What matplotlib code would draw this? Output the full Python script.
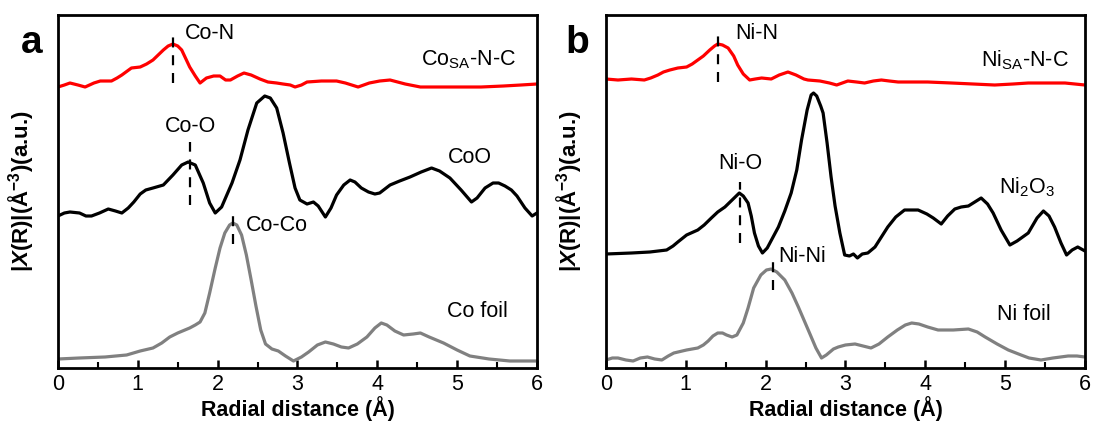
import matplotlib
matplotlib.use("Agg")
import matplotlib.pyplot as plt
from matplotlib.ticker import MultipleLocator

# ==========================================
# ================ DONNEES =================
# ==========================================
# valeurs (unites arbitraires, courbes deja decalees)

# panneau a : Co
co_sa_x = [0.00, 0.08, 0.15, 0.25, 0.34, 0.45, 0.53, 0.67, 0.74, 0.80, 0.92, 1.03, 1.11, 1.19,
           1.32, 1.38, 1.44, 1.50, 1.55, 1.65, 1.72, 1.78, 1.86, 1.95, 2.03, 2.10, 2.16, 2.25,
           2.33, 2.42, 2.53, 2.63, 2.74, 2.82, 2.91, 2.97, 3.05, 3.12, 3.30, 3.49, 3.60, 3.76,
           3.90, 4.03, 4.16, 4.35, 4.54, 4.80, 5.08, 5.30, 5.58, 5.80, 6.00]
co_sa_y = [281, 283, 285, 283, 281, 285, 287, 287, 290, 293, 300, 301, 304, 308,
           318, 322, 324, 322, 318, 301, 292, 285, 290, 292, 292, 288, 288, 292,
           295, 293, 289, 286, 285, 284, 283, 281, 283, 286, 287, 287, 285, 281,
           285, 287, 288, 284, 281, 281, 281, 281, 282, 283, 284]

coo_x = [0.00, 0.08, 0.15, 0.27, 0.35, 0.42, 0.52, 0.63, 0.72, 0.80, 0.88, 0.95, 1.03, 1.10,
         1.19, 1.32, 1.44, 1.55, 1.63, 1.72, 1.82, 1.90, 1.97, 2.05, 2.18, 2.28, 2.38, 2.49,
         2.59, 2.66, 2.74, 2.82, 2.90, 2.97, 3.03, 3.12, 3.20, 3.26, 3.35, 3.42, 3.49, 3.58,
         3.66, 3.72, 3.80, 3.89, 3.97, 4.03, 4.16, 4.28, 4.41, 4.55, 4.68, 4.78, 4.91, 5.05,
         5.18, 5.25, 5.35, 5.45, 5.52, 5.60, 5.68, 5.75, 5.85, 5.94, 6.00]
coo_y = [152, 155, 156, 155, 152, 152, 155, 159, 157, 155, 160, 166, 174, 178,
         180, 183, 193, 203, 206, 203, 185, 165, 155, 161, 185, 208, 238, 265,
         272, 270, 260, 235, 205, 180, 168, 164, 166, 162, 151, 160, 173, 183,
         188, 186, 180, 176, 174, 175, 183, 187, 191, 196, 200, 197, 190, 178,
         166, 170, 180, 185, 185, 182, 178, 172, 160, 152, 155]

co_foil_x = [0.00, 0.27, 0.59, 0.86, 1.03, 1.19, 1.30, 1.40, 1.50, 1.65, 1.72, 1.78, 1.84,
             1.90, 1.97, 2.03, 2.09, 2.15, 2.19, 2.24, 2.30, 2.36, 2.42, 2.48, 2.54, 2.60,
             2.68, 2.76, 2.85, 2.95, 3.05, 3.14, 3.25, 3.35, 3.45, 3.55, 3.64, 3.75, 3.87,
             3.97, 4.05, 4.12, 4.22, 4.33, 4.45, 4.54, 4.65, 4.83, 5.00, 5.16, 5.40, 5.66, 6.00]
co_foil_y = [9, 10, 11, 13, 17, 20, 25, 31, 35, 40, 43, 46, 55,
             75, 100, 120, 135, 143, 145, 143, 133, 113, 88, 62, 38, 24,
             19, 17, 12, 7, 11, 16, 23, 26, 24, 21, 20, 24, 31,
             40, 45, 43, 37, 33, 34, 35, 31, 25, 18, 12, 9, 7, 7]

# panneau b : Ni
ni_sa_x = [0.00, 0.15, 0.32, 0.48, 0.56, 0.65, 0.72, 0.80, 0.90, 1.01, 1.08, 1.15, 1.22, 1.30,
           1.36, 1.40, 1.46, 1.53, 1.60, 1.65, 1.72, 1.80, 1.87, 1.95, 2.07, 2.17, 2.28, 2.38,
           2.48, 2.53, 2.68, 2.80, 2.89, 2.96, 3.03, 3.14, 3.24, 3.35, 3.45, 3.55, 3.66, 3.85,
           4.03, 4.33, 4.60, 4.87, 5.10, 5.29, 5.50, 5.75, 6.00]
ni_sa_y = [289, 288, 289, 288, 290, 293, 296, 298, 300, 301, 304, 308, 312, 318,
           322, 324, 323, 320, 312, 303, 294, 288, 289, 290, 289, 293, 296, 293,
           289, 288, 287, 285, 283, 285, 287, 286, 285, 287, 288, 287, 286, 286,
           286, 285, 284, 283, 284, 285, 285, 285, 283]

ni2o3_x = [0.00, 0.32, 0.55, 0.76, 0.84, 0.90, 1.01, 1.15, 1.23, 1.32, 1.40, 1.49, 1.58, 1.67,
           1.72, 1.78, 1.82, 1.86, 1.91, 1.96, 2.02, 2.10, 2.16, 2.24, 2.32, 2.39, 2.45, 2.52,
           2.57, 2.60, 2.64, 2.69, 2.72, 2.77, 2.82, 2.87, 2.93, 2.99, 3.05, 3.10, 3.15, 3.21,
           3.28, 3.37, 3.45, 3.53, 3.63, 3.74, 3.82, 3.91, 4.02, 4.10, 4.20, 4.28, 4.37, 4.45,
           4.54, 4.62, 4.70, 4.78, 4.85, 4.95, 5.06, 5.15, 5.29, 5.40, 5.48, 5.55, 5.62, 5.70,
           5.77, 5.84, 5.91, 6.00]
ni2o3_y = [114, 115, 116, 118, 122, 126, 133, 138, 143, 150, 156, 161, 168, 175,
           172, 165, 152, 135, 122, 115, 120, 132, 141, 157, 175, 198, 228, 258,
           273, 275, 272, 262, 255, 225, 191, 162, 135, 113, 112, 114, 110, 114,
           115, 121, 131, 141, 151, 158, 158, 158, 154, 150, 144, 152, 159, 161,
           162, 166, 170, 164, 155, 138, 123, 127, 135, 150, 157, 152, 141, 125,
           113, 118, 121, 117]

ni_foil_x = [0.00, 0.08, 0.15, 0.25, 0.34, 0.43, 0.52, 0.61, 0.70, 0.78, 0.85, 1.01, 1.15,
             1.22, 1.28, 1.34, 1.40, 1.46, 1.51, 1.58, 1.64, 1.72, 1.78, 1.85, 1.94, 2.01,
             2.07, 2.14, 2.24, 2.33, 2.41, 2.48, 2.55, 2.63, 2.70, 2.76, 2.85, 2.91, 3.00,
             3.12, 3.22, 3.32, 3.42, 3.53, 3.65, 3.75, 3.83, 3.92, 4.03, 4.16, 4.35, 4.54,
             4.65, 4.75, 4.90, 5.04, 5.20, 5.30, 5.45, 5.60, 5.79, 5.90, 6.00]
ni_foil_y = [8, 10, 10, 8, 7, 10, 11, 9, 8, 12, 15, 18, 20,
             23, 27, 32, 35, 35, 33, 31, 33, 45, 60, 80, 93, 98,
             99, 96, 88, 75, 61, 48, 35, 20, 10, 13, 19, 21, 23,
             24, 22, 20, 24, 31, 38, 43, 45, 44, 41, 38, 38, 39,
             36, 31, 24, 18, 13, 10, 8, 10, 12, 12, 11]

# etiquettes des courbes et des liaisons
co_names = ["Co$_{\\rm SA}$-N-C", "CoO", "Co foil"]
ni_names = ["Ni$_{\\rm SA}$-N-C", "Ni$_{\\rm 2}$O$_{\\rm 3}$", "Ni foil"]
co_bonds = ["Co-N", "Co-O", "Co-Co"]
ni_bonds = ["Ni-N", "Ni-O", "Ni-Ni"]
co_bond_r = [1.44, 1.65, 2.19]
ni_bond_r = [1.40, 1.68, 2.09]

# ==========================================
# ================ STYLE ===================
# ==========================================
plt.rcParams['font.family'] = ['Liberation Sans', 'DejaVu Sans']
plt.rcParams['mathtext.fontset'] = 'custom'
plt.rcParams['mathtext.rm'] = 'Liberation Sans'
plt.rcParams['mathtext.bf'] = 'Liberation Sans:bold'
plt.rcParams['mathtext.it'] = 'Liberation Sans:italic:bold'

line_colors = ['#ff0000', '#000000', '#808080']

fig = plt.figure(figsize=(10.96, 4.30), dpi=100)
ax_a = fig.add_axes([0.0529, 0.1442, 0.4370, 0.8209])
ax_b = fig.add_axes([0.5529, 0.1442, 0.4370, 0.8209])


def draw_panel(ax, curves, names, name_pos, bonds, bond_r, bond_seg, bond_txt, letter, letter_x):
    for (xs, ys), c in zip(curves, line_colors):
        ax.plot(xs, ys, color=c, lw=2.3, solid_joinstyle='round', solid_capstyle='round')

    # traits pointilles pour les liaisons
    for r, (y0, y1), txt, (tx, ty, ha) in zip(bond_r, bond_seg, bonds, bond_txt):
        ax.plot([r, r], [y0, y1], color='black', lw=1.6, linestyle=(0, (4.5, 3.5)))
        ax.text(tx, ty, txt, fontsize=15.5, ha=ha, va='center')

    for name, (nx, ny) in zip(names, name_pos):
        ax.text(nx, ny, name, fontsize=15.5, ha='center', va='center')

    ax.set_xlim(0, 6)
    ax.set_ylim(0, 353)
    ax.set_yticks([])
    ax.xaxis.set_major_locator(MultipleLocator(1))
    ax.xaxis.set_minor_locator(MultipleLocator(0.5))
    ax.tick_params(axis='x', which='major', direction='in', length=6, width=1.8,
                   labelsize=15.5, pad=4, top=False)
    ax.tick_params(axis='x', which='minor', direction='in', length=4, width=1.5, top=False)
    for s in ax.spines.values():
        s.set_linewidth(2.0)

    ax.set_xlabel('Radial distance (Å)', fontsize=15.5, fontweight='bold', labelpad=1)
    ax.set_ylabel('|$\\it{X}$(R)|(Å$^{\\mathbf{-3}}$)(a.u.)', fontsize=16, fontweight='bold')
    ax.yaxis.set_label_coords(-0.045, 0.5)

    fig.text(letter_x, 0.90, letter, fontsize=28, fontweight='bold', ha='center', va='center')


draw_panel(ax_a,
           [(co_sa_x, co_sa_y), (coo_x, coo_y), (co_foil_x, co_foil_y)],
           co_names, [(5.14, 308), (5.16, 211), (5.25, 56)],
           co_bonds, co_bond_r,
           [(285, 338), (163, 226), (124, 156)],
           [(1.59, 335, 'left'), (1.66, 242, 'center'), (2.36, 142, 'left')],
           'a', 0.0290)

draw_panel(ax_b,
           [(ni_sa_x, ni_sa_y), (ni2o3_x, ni2o3_y), (ni_foil_x, ni_foil_y)],
           ni_names, [(5.25, 308), (5.27, 181), (5.23, 53)],
           ni_bonds, ni_bond_r,
           [(286, 336), (125, 186), (78, 113)],
           [(1.62, 335, 'left'), (1.68, 205, 'center'), (2.16, 111, 'left')],
           'b', 0.5270)

fig.savefig('out.png', dpi=100)
